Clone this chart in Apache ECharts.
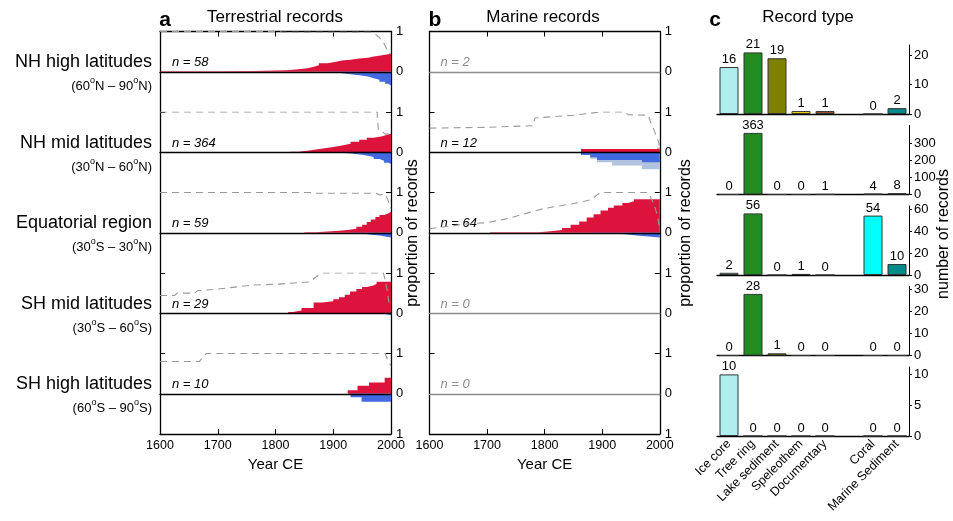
<!DOCTYPE html>
<html><head><meta charset="utf-8">
<script src="https://cdn.jsdelivr.net/npm/echarts@6/dist/echarts.min.js"></script>
<style>html,body{margin:0;padding:0;background:#fff}#c{width:953px;height:521px}</style>
</head><body><div id="c"></div>
<script>
// ---------------- DATA ----------------
const regionNames = ['NH high latitudes','NH mid latitudes','Equatorial region','SH mid latitudes','SH high latitudes'];
const regionRanges = [['60','N','90','N'],['30','N','60','N'],['30','S','30','N'],['30','S','60','S'],['60','S','90','S']];
const yearTicks = [1600,1700,1800,1900,2000];
const nTerr = [58,364,59,29,10];
const nMar = [2,12,64,0,0];

// Terrestrial: proportion warming (positive), cooling (negative), record coverage (dashed)
const terrWarmNHHigh = [[1600,0.01],[1650,0.015],[1700,0.02],[1760,0.03],[1800,0.04],[1820,0.06],[1840,0.09],[1855,0.12],[1865,0.16],[1875,0.21],[1890,0.25],[1905,0.28],[1915,0.3],[1930,0.33],[1945,0.35],[1960,0.38],[1970,0.41],[1985,0.43],[1992,0.45],[2000,0.45]];
const terrCoolNHHigh = [[1890,-0.01],[1905,-0.04],[1915,-0.06],[1930,-0.09],[1945,-0.12],[1960,-0.16],[1970,-0.2],[1980,-0.25],[1990,-0.3],[1995,-0.34],[2000,-0.34]];
const terrCoverNHHigh = [[1600,1],[1805,1],[1812,0.98],[1965,0.98],[1972,0.94],[1980,0.85],[1988,0.7],[1993,0.55],[1997,0.45],[2000,0.45]];

const terrWarmNHMid = [[1825,0.01],[1840,0.04],[1855,0.07],[1870,0.1],[1885,0.13],[1900,0.17],[1915,0.21],[1930,0.26],[1945,0.31],[1958,0.36],[1970,0.4],[1985,0.44],[1995,0.46],[2000,0.46]];
const terrCoolNHMid = [[1870,-0.01],[1900,-0.02],[1920,-0.04],[1935,-0.06],[1950,-0.09],[1960,-0.12],[1970,-0.17],[1980,-0.21],[1988,-0.26],[1995,-0.29],[2000,-0.29]];
const terrCoverNHMid = [[1600,1],[1976,1],[1978,0.55],[1986,0.5],[1990,0.45],[2000,0.45]];

const terrWarmEq = [[1850,0.01],[1870,0.03],[1890,0.05],[1910,0.07],[1925,0.1],[1940,0.15],[1950,0.2],[1958,0.27],[1965,0.33],[1973,0.39],[1980,0.44],[1988,0.48],[1995,0.52],[2000,0.52]];
const terrCoolEq = [[1935,-0.02],[1950,-0.05],[1965,-0.07],[1980,-0.1],[1992,-0.12],[2000,-0.12]];
const terrCoverEq = [[1600,1],[1860,1],[1870,0.98],[1975,0.98],[1980,0.94],[1990,0.96],[1995,0.8],[1998,0.65],[2000,0.6]];

const terrWarmSHMid = [[1822,0.03],[1830,0.07],[1845,0.13],[1866,0.27],[1880,0.3],[1900,0.35],[1910,0.4],[1920,0.46],[1929,0.54],[1940,0.6],[1950,0.65],[1958,0.69],[1970,0.73],[1975,0.78],[2000,0.78]];
const terrCoolSHMid = [[1960,-0.02],[1990,-0.05],[2000,-0.05]];
const terrCoverSHMid = [[1600,0.44],[1625,0.44],[1630,0.5],[1660,0.5],[1665,0.56],[1700,0.6],[1730,0.65],[1760,0.7],[1800,0.72],[1860,0.78],[1870,0.9],[1880,1],[1987,1],[1993,0.6],[1996,0.3],[2000,0.15]];

const terrWarmSHHigh = [[1925,0.09],[1942,0.2],[1962,0.28],[1989,0.4],[2000,0.4]];
const terrCoolSHHigh = [[1930,-0.09],[1949,-0.2],[2000,-0.2]];
const terrCoverSHHigh = [[1600,0.8],[1668,0.8],[1680,1],[1990,1],[1995,0.8],[2000,0.7]];

// Marine
const marWarmNHMid = [[1863,0.08],[2000,0.08]];
const marWarmLightNHMid = [[1995,0.12],[2000,0.12]];
const marCoolNHMid = [[1863,-0.066],[1879,-0.125],[1891,-0.19],[1969,-0.25],[2000,-0.25]];
const marCoolLightNHMid = [[1863,-0.066],[1879,-0.16],[1891,-0.25],[1917,-0.33],[1969,-0.42],[2000,-0.42]];
const marCoverNHMid = [[1600,0.6],[1700,0.62],[1780,0.66],[1783,0.85],[1850,0.92],[1897,1],[1940,1],[1945,0.93],[1980,0.92],[1984,0.75],[1990,0.55],[1997,0.3],[2000,0.1]];

const marWarmEq = [[1705,0.01],[1750,0.015],[1790,0.04],[1810,0.07],[1830,0.12],[1845,0.2],[1860,0.28],[1873,0.38],[1885,0.46],[1897,0.55],[1910,0.62],[1920,0.68],[1935,0.74],[1945,0.78],[1955,0.83],[2000,0.83]];
const marCoolEq = [[1880,-0.02],[1910,-0.04],[1940,-0.07],[1960,-0.1],[1985,-0.12],[2000,-0.12]];
const marCoverEq = [[1600,0.1],[1665,0.22],[1700,0.25],[1735,0.35],[1798,0.6],[1860,0.75],[1880,0.82],[1897,1],[1980,1],[1990,0.7],[1995,0.47],[2000,0.1]];

// Record type counts
const recordTypes = ['Ice core','Tree ring','Lake sediment','Speleothem','Documentary','','Coral','Marine Sediment'];
const typeColors = ['#AFEEEE','#228B22','#808000','#FFD700','#A0522D',null,'#00FFFF','#008B8B'];
const countsNHHigh = [16,21,19,1,1,null,0,2];
const countsNHMid = [0,363,0,0,1,null,4,8];
const countsEq = [2,56,0,1,0,null,54,10];
const countsSHMid = [0,28,1,0,0,null,0,0];
const countsSHHigh = [10,0,0,0,0,null,0,0];
const countTicksNHHigh = [0,10,20];
const countTicksNHMid = [0,100,200,300];
const countTicksEq = [0,20,40,60];
const countTicksSHMid = [0,10,20,30];
const countTicksSHHigh = [0,5,10];

// ---------------- LAYOUT ----------------
const FF = '"Liberation Sans", Arial, Helvetica, sans-serif';
const TOP = 31.5, ROW_H = 80.5;
const A_LEFT = 160, A_W = 231;
const B_LEFT = 429.5, B_W = 230.3;
const C_LEFT = 717, C_W = 192, C_H = 69;
const RED = '#DC143C', PINK = '#F4A0A0', BLUE = '#4169E1', LBLUE = '#B0C4DE';

const terrRows = [
  {warm: terrWarmNHHigh, cool: terrCoolNHHigh, cover: terrCoverNHHigh},
  {warm: terrWarmNHMid, cool: terrCoolNHMid, cover: terrCoverNHMid},
  {warm: terrWarmEq, cool: terrCoolEq, cover: terrCoverEq},
  {warm: terrWarmSHMid, cool: terrCoolSHMid, cover: terrCoverSHMid},
  {warm: terrWarmSHHigh, cool: terrCoolSHHigh, cover: terrCoverSHHigh}
];
const marRows = [
  {},
  {warmLight: marWarmLightNHMid, warm: marWarmNHMid, coolLight: marCoolLightNHMid, cool: marCoolNHMid, cover: marCoverNHMid},
  {warm: marWarmEq, cool: marCoolEq, cover: marCoverEq},
  {},
  {}
];
const countRows = [countsNHHigh, countsNHMid, countsEq, countsSHMid, countsSHHigh];
const countTicks = [countTicksNHHigh, countTicksNHMid, countTicksEq, countTicksSHMid, countTicksSHHigh];
const countMax = countRows.map(r => Math.max(...r.filter(v => v !== null)) * 1.12);

const grid = [], xAxis = [], yAxis = [], series = [], graphic = [];
const blackLine = {color: '#000', width: 1.3};

function addFrame(left, width) {
  const gi = grid.length;
  grid.push({left, top: TOP, width, height: ROW_H * 5});
  xAxis.push({gridIndex: gi, type: 'value', min: 1600, max: 2000, interval: 100, position: 'bottom',
    axisLine: {onZero: false, lineStyle: blackLine},
    axisTick: {inside: true, length: 5, lineStyle: {color: '#000'}},
    axisLabel: {fontSize: 12.5, color: '#000', margin: 5, fontFamily: FF, customValues: yearTicks,
      formatter: v => String(Math.round(v))},
    splitLine: {show: false},
    name: 'Year CE', nameLocation: 'middle', nameGap: 20,
    nameTextStyle: {fontSize: 15, color: '#000', fontFamily: FF}});
  xAxis.push({gridIndex: gi, type: 'value', min: 1600, max: 2000, interval: 100, position: 'top',
    axisLine: {onZero: false, lineStyle: blackLine},
    axisTick: {inside: true, length: 5, lineStyle: {color: '#000'}},
    axisLabel: {show: false}, splitLine: {show: false}});
  yAxis.push({gridIndex: gi, type: 'value', min: 0, max: 10, interval: 1, position: 'left',
    axisLine: {onZero: false, lineStyle: blackLine},
    axisTick: {inside: true, length: 5, lineStyle: {color: '#000'}, customValues: [2,4,6,8]},
    axisLabel: {show: false}, splitLine: {show: false}});
  yAxis.push({gridIndex: gi, type: 'value', min: 0, max: 10, interval: 1, position: 'right',
    axisLine: {onZero: false, lineStyle: blackLine},
    axisTick: {inside: true, length: 5, lineStyle: {color: '#000'}},
    axisLabel: {fontSize: 13, color: '#000', margin: 5, fontFamily: FF,
      formatter: v => (Math.round(v) % 2 === 0 ? '1' : '0')},
    splitLine: {show: false}});
}

function areaSeries(gi, data, color) {
  return {type: 'line', xAxisIndex: gi, yAxisIndex: gi, step: 'end', symbol: 'none', silent: true,
    data, lineStyle: {width: 0, opacity: 0}, areaStyle: {color, opacity: 1}, z: 2};
}
function coverSeries(gi, data) {
  return {type: 'line', xAxisIndex: gi, yAxisIndex: gi, symbol: 'none', silent: true, data,
    lineStyle: {color: '#9a9a9a', width: 1.1, type: [7, 5]}, z: 3};
}

function addRow(left, width, i, row, zeroColor) {
  const gi = grid.length;
  grid.push({left, top: TOP + ROW_H * i, width, height: ROW_H});
  xAxis.push({gridIndex: gi, type: 'value', min: 1600, max: 2000,
    axisLine: {show: true, onZero: true, lineStyle: {color: zeroColor, width: 1.3}},
    axisTick: {show: false}, axisLabel: {show: false}, splitLine: {show: false}, z: 5});
  yAxis.push({gridIndex: gi, type: 'value', min: -1, max: 1, show: false});
  if (row.warmLight) series.push(areaSeries(xAxis.length - 1, row.warmLight, PINK));
  if (row.warm) series.push(areaSeries(xAxis.length - 1, row.warm, RED));
  if (row.coolLight) series.push(areaSeries(xAxis.length - 1, row.coolLight, LBLUE));
  if (row.cool) series.push(areaSeries(xAxis.length - 1, row.cool, BLUE));
  if (row.cover) series.push(coverSeries(xAxis.length - 1, row.cover));
}

function addBars(i) {
  const gi = grid.length;
  const base = TOP + ROW_H * (i + 1) + 2;
  grid.push({left: C_LEFT, top: base - C_H, width: C_W, height: C_H});
  xAxis.push({gridIndex: gi, type: 'category', data: recordTypes,
    axisLine: {lineStyle: {color: '#000', width: 1.3}},
    axisTick: {alignWithLabel: true, length: 3, lineStyle: {color: '#000'}},
    axisLabel: i === 4 ? {rotate: 45, fontSize: 12.5, color: '#000', interval: 0, margin: 6, fontFamily: FF} : {show: false}});
  yAxis.push({gridIndex: gi, type: 'value', position: 'right', min: 0, max: countMax[i],
    axisLine: {show: true, onZero: false, lineStyle: {color: '#000', width: 1}},
    axisTick: {show: true, length: 3, lineStyle: {color: '#000'}, customValues: countTicks[i]},
    axisLabel: {fontSize: 13, color: '#000', margin: 5, fontFamily: FF, customValues: countTicks[i]},
    splitLine: {show: false}});
  series.push({type: 'bar', xAxisIndex: xAxis.length - 1, yAxisIndex: yAxis.length - 1, barWidth: 19, silent: true,
    data: countRows[i].map((v, k) => v === null ? null : {value: v, itemStyle: {color: typeColors[k]}}),
    itemStyle: {borderColor: '#333', borderWidth: 1},
    label: {show: true, position: 'top', fontSize: 13, color: '#000', distance: 1, fontFamily: FF}});
}

addFrame(A_LEFT, A_W);
for (let i = 0; i < 5; i++) addRow(A_LEFT, A_W, i, terrRows[i], '#000');
addFrame(B_LEFT, B_W);
for (let i = 0; i < 5; i++) addRow(B_LEFT, B_W, i, marRows[i], nMar[i] > 2 ? '#000' : '#8c8c8c');
for (let i = 0; i < 5; i++) addBars(i);

// ---------------- TEXT ----------------
function txt(x, y, text, size, opts) {
  graphic.push({type: 'text', x, y, silent: true,
    style: Object.assign({text, fill: '#000', fontSize: size, fontFamily: FF, align: 'center', verticalAlign: 'middle'}, opts || {})});
}
txt(165, 20, 'a', 21, {fontWeight: 'bold'});
txt(275, 17, 'Terrestrial records', 17);
txt(435, 20, 'b', 21, {fontWeight: 'bold'});
txt(543, 17, 'Marine records', 17);
txt(715, 20, 'c', 21, {fontWeight: 'bold'});
txt(808, 17, 'Record type', 17);

for (let i = 0; i < 5; i++) {
  const zero = TOP + ROW_H * i + ROW_H / 2;
  txt(152, zero - 9.5, regionNames[i], 18, {align: 'right'});
  const r = regionRanges[i];
  graphic.push({type: 'text', x: 152, y: zero + 13, silent: true,
    style: {text: '{m|(' + r[0] + '}{s|o}{m|' + r[1] + ' – ' + r[2] + '}{s|o}{m|' + r[3] + ')}',
      fill: '#000', fontSize: 13, fontFamily: FF, align: 'right', verticalAlign: 'middle',
      rich: {
        m: {fontSize: 13, fontFamily: FF, fill: '#000', lineHeight: 17, verticalAlign: 'bottom'},
        s: {fontSize: 9, fontFamily: FF, fill: '#000', lineHeight: 10, verticalAlign: 'top'}
      }}});
  txt(A_LEFT + 12, zero - 9, 'n = ' + nTerr[i], 13, {align: 'left', fontStyle: 'italic'});
  txt(B_LEFT + 11, zero - 9, 'n = ' + nMar[i], 13, {align: 'left', fontStyle: 'italic', fill: nMar[i] > 2 ? '#000' : '#8c8c8c'});
}
graphic.push({type: 'text', x: 413, y: 233, rotation: Math.PI / 2, silent: true,
  style: {text: 'proportion of records', fill: '#000', fontSize: 16, fontFamily: FF, align: 'center', verticalAlign: 'middle'}});
graphic.push({type: 'text', x: 686, y: 233, rotation: Math.PI / 2, silent: true,
  style: {text: 'proportion of records', fill: '#000', fontSize: 16, fontFamily: FF, align: 'center', verticalAlign: 'middle'}});
graphic.push({type: 'text', x: 944, y: 234, rotation: Math.PI / 2, silent: true,
  style: {text: 'number of records', fill: '#000', fontSize: 16, fontFamily: FF, align: 'center', verticalAlign: 'middle'}});

const chart = echarts.init(document.getElementById('c'), null, {renderer: 'canvas'});
chart.setOption({
  animation: false,
  backgroundColor: '#fff',
  textStyle: {fontFamily: FF},
  grid, xAxis, yAxis, series, graphic
});
</script></body></html>
